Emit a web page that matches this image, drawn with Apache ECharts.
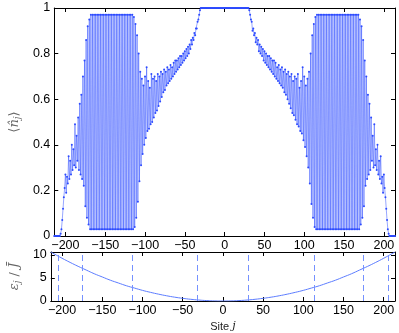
<!DOCTYPE html>
<html>
<head>
<meta charset="utf-8">
<script src="https://cdn.jsdelivr.net/npm/echarts@6/dist/echarts.min.js"></script>
<style>
* { margin: 0; padding: 0; }
body { background: #fff; }
#chart { width: 399px; height: 333px; }
</style>
</head>
<body>
<div id="chart"></div>
<script>
// site index of the first value in every density array
const firstSite = -214

// <n_j>, sites -214 .. -31
const densityLeft = [
  0,0,0,0,0,0,0,0,
  0.01,0.03,0.07,0.12,0.17,0.21,
  0.27,0.19,0.26,0.23,0.35,0.25,0.33,0.27,0.40,0.29,0.38,0.31,0.49,0.30,0.44,0.33,
  0.52,0.29,0.58,0.27,0.62,0.25,0.70,0.22,0.77,0.13,0.86,0.08,0.92,0.05,0.95,0.03,
  0.97,0.03,0.97,0.03,0.97,0.03,0.97,0.03,0.97,0.03,0.97,0.03,0.97,0.03,0.97,0.03,0.97,0.03,
  0.97,0.03,0.97,0.03,0.97,0.03,0.97,0.03,0.97,0.03,0.97,0.03,0.97,0.03,0.97,0.03,0.97,0.03,
  0.97,0.03,0.97,0.03,0.97,0.03,0.97,0.03,0.97,0.03,0.97,0.03,0.97,0.03,0.97,0.03,0.97,0.03,
  0.96,0.04,0.93,0.08,0.88,0.15,0.80,0.24,0.72,0.31,0.69,0.36,0.66,0.40,0.70,0.43,0.74,0.46,
  0.68,0.47,0.65,0.49,0.71,0.50,0.69,0.52,0.70,0.54,0.68,0.55,0.71,0.57,0.70,0.59,0.72,0.61,
  0.71,0.63,0.73,0.64,0.72,0.66,0.74,0.67,0.73,0.68,0.75,0.69,0.74,0.70,0.76,0.71,0.77,0.72,
  0.77,0.73,0.78,0.74,0.79,0.75,0.79,0.76,0.80,0.77,0.81,0.78,0.82,0.79,0.83,0.80,0.84,0.82,
  0.86,0.84,0.87,0.86,0.89,0.88,0.91,0.91,0.94,0.95,0.97,0.99
]
// sites -30 .. 30
const densityCenter = [
  1,1,1,1,1,1,1,1,1,1,1,1,1,1,1,1,1,1,1,1,1,1,1,1,1,1,1,1,1,1,1,
  1,1,1,1,1,1,1,1,1,1,1,1,1,1,1,1,1,1,1,1,1,1,1,1,1,1,1,1,1,1
]
// sites 31 .. 214
const densityRight = [
  0.99,0.97,0.95,0.94,0.90,0.91,0.88,0.89,0.85,0.87,0.84,0.86,0.81,0.84,0.80,0.83,0.79,0.82,
  0.77,0.81,0.76,0.80,0.75,0.79,0.74,0.79,0.73,0.78,0.72,0.77,0.71,0.77,0.70,0.76,0.69,0.74,
  0.68,0.75,0.67,0.73,0.66,0.74,0.65,0.72,0.63,0.73,0.62,0.71,0.60,0.72,0.58,0.70,0.56,0.71,
  0.54,0.68,0.53,0.70,0.51,0.69,0.49,0.71,0.48,0.65,0.46,0.68,0.45,0.74,0.42,0.70,0.39,0.66,
  0.35,0.69,0.30,0.72,0.23,0.80,0.14,0.88,0.08,0.93,0.04,0.96,0.03,
  0.97,0.03,0.97,0.03,0.97,0.03,0.97,0.03,0.97,0.03,0.97,0.03,0.97,0.03,0.97,0.03,0.97,0.03,
  0.97,0.03,0.97,0.03,0.97,0.03,0.97,0.03,0.97,0.03,0.97,0.03,0.97,0.03,0.97,0.03,0.97,0.03,
  0.97,0.03,0.97,0.03,0.97,0.03,0.97,0.03,0.97,0.03,0.97,0.03,0.97,0.03,0.97,0.03,0.97,0.03,
  0.95,0.05,0.92,0.08,0.86,0.13,0.77,0.22,0.70,0.25,0.62,0.27,0.58,0.29,0.52,0.33,
  0.44,0.30,0.49,0.31,0.38,0.29,0.40,0.27,0.33,0.25,0.35,0.23,0.26,0.19,0.27,0.21,
  0.17,0.12,0.07,0.03,0.01,
  0,0,0,0,0,0,0,0
]

// on-site energy eps_j / J, read every 10 sites
const epsSites = [-214,-210,-200,-190,-180,-170,-160,-150,-140,-130,-120,-110,-100,-90,-80,-70,-60,-50,-40,-30,-20,-10,
  0,10,20,30,40,50,60,70,80,90,100,110,120,130,140,150,160,170,180,190,200,210,214]
const epsValues = [10.6,10.2,9.25,8.35,7.5,6.7,5.9,5.2,4.5,3.9,3.3,2.8,2.3,1.87,1.48,1.13,0.83,0.58,0.37,0.21,0.09,0.02,
  0,0.02,0.09,0.21,0.37,0.58,0.83,1.13,1.48,1.87,2.3,2.8,3.3,3.9,4.5,5.2,5.9,6.7,7.5,8.35,9.25,10.2,10.6]

// dashed lines at the region boundaries
const boundarySites = [-205,-175,-113,-32,32,113,175,205]

const siteTicks = [-200,-150,-100,-50,0,50,100,150,200]

const density = densityLeft.concat(densityCenter, densityRight)
const densityData = density.map((v, i) => [firstSite + i, v])
const epsData = epsSites.map((s, i) => [s, epsValues[i]])

const font = 'Liberation Sans, Arial, sans-serif'
const minus = v => String(v).replace('-', '\u2212')
const dashColor = '#7591ff'

function xAx(grid, pos, labels) {
  return {
    type: 'value', gridIndex: grid, position: pos, min: -214, max: 214,
    axisLine: { show: true, onZero: false, lineStyle: { color: '#000', width: 1 } },
    axisTick: { show: true, inside: true, length: 4, customValues: siteTicks, lineStyle: { color: '#000' } },
    axisLabel: { show: labels, customValues: siteTicks, formatter: minus, color: '#000', fontFamily: font, fontSize: 12.5, margin: 3 },
    splitLine: { show: false }
  }
}
function yAx(grid, pos, labels, min, max, ticks) {
  return {
    type: 'value', gridIndex: grid, position: pos, min: min, max: max,
    axisLine: { show: true, onZero: false, lineStyle: { color: '#000', width: 1 } },
    axisTick: { show: true, inside: true, length: 4, customValues: ticks, lineStyle: { color: '#000' } },
    axisLabel: { show: labels, customValues: ticks, color: '#000', fontFamily: font, fontSize: 12.5, margin: 4 },
    splitLine: { show: false }
  }
}

const xAxes = [xAx(0, 'bottom', true), xAx(0, 'top', false), xAx(1, 'bottom', true), xAx(1, 'top', false)]
xAxes[2].name = '{a|Site }{i|j}'
xAxes[2].nameLocation = 'middle'
xAxes[2].nameGap = 20
xAxes[2].nameTextStyle = { rich: {
  a: { fontFamily: font, fontSize: 11, color: '#222' },
  i: { fontFamily: 'DejaVu Serif', fontStyle: 'italic', fontSize: 11, color: '#222' }
} }

const yAxes = [
  yAx(0, 'left', true, 0, 1, [0, 0.2, 0.4, 0.6, 0.8, 1]),
  yAx(0, 'right', false, 0, 1, [0, 0.2, 0.4, 0.6, 0.8, 1]),
  yAx(1, 'left', true, 0, 10.6, [0, 5, 10]),
  yAx(1, 'right', false, 0, 10.6, [0, 5, 10])
]
const nameRich = { rich: {
  a: { fontFamily: 'DejaVu Sans', fontSize: 13, color: '#666' },
  b: { fontFamily: 'DejaVu Serif', fontStyle: 'italic', fontSize: 13, color: '#666' },
  s: { fontFamily: 'DejaVu Serif', fontStyle: 'italic', fontSize: 9, color: '#666', padding: [6, 0, 0, 0] }
} }
yAxes[0].name = '{a|\u27e8}{b|n\u0302}{s|j}{a|\u27e9}'
yAxes[0].nameLocation = 'middle'
yAxes[0].nameGap = 22
yAxes[0].nameTextStyle = nameRich
yAxes[2].name = '{b|\u03b5}{s|j}{a| / }{b|J\u0304}'
yAxes[2].nameLocation = 'middle'
yAxes[2].nameGap = 24
yAxes[2].nameTextStyle = nameRich

const chart = echarts.init(document.getElementById('chart'), null, { renderer: 'canvas' })
chart.setOption({
  animation: false,
  grid: [
    { left: 36, top: 8, width: 359, height: 228 },
    { left: 36, top: 252, width: 359, height: 52 }
  ],
  xAxis: xAxes,
  yAxis: yAxes,
  series: [
    {
      type: 'line', xAxisIndex: 0, yAxisIndex: 0, data: densityData,
      showAllSymbol: true, symbol: 'circle', symbolSize: 2,
      lineStyle: { color: 'rgba(45,75,255,0.62)', width: 0.8 },
      itemStyle: { color: '#2d4bff' }
    },
    {
      type: 'line', xAxisIndex: 2, yAxisIndex: 2, data: epsData, smooth: true,
      showSymbol: false, lineStyle: { color: '#5c7cff', width: 1 },
      markLine: {
        silent: true, symbol: 'none', label: { show: false },
        itemStyle: { color: dashColor },
        lineStyle: { color: dashColor, type: [6, 4], width: 1, opacity: 1 },
        emphasis: { disabled: true },
        data: boundarySites.map(s => ({ xAxis: s, lineStyle: { color: dashColor, type: [6, 4], width: 1 } }))
      }
    }
  ]
})
</script>
</body>
</html>
